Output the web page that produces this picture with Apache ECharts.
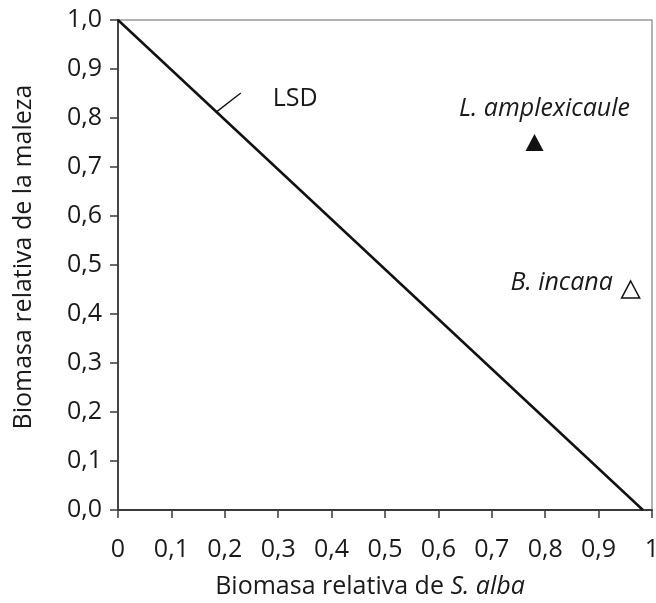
<!DOCTYPE html>
<html>
<head>
<meta charset="utf-8">
<script src="https://cdn.jsdelivr.net/npm/echarts@6/dist/echarts.min.js"></script>
<style>
  html, body { margin: 0; padding: 0; background: #fff; }
  #chart { width: 656px; height: 603px; }
</style>
</head>
<body>
<div id="chart"></div>
<script>
// Tick labels (decimal comma)
const xTickLabels = ['0', '0,1', '0,2', '0,3', '0,4', '0,5', '0,6', '0,7', '0,8', '0,9', '1'];
const yTickLabels = ['0,0', '0,1', '0,2', '0,3', '0,4', '0,5', '0,6', '0,7', '0,8', '0,9', '1,0'];

// Replacement diagonal (relative biomass of S. alba vs. weed)
const diagonalX = [0, 0.983];
const diagonalY = [1.0, 0];

// LSD marker segment
const lsdX = [0.185, 0.23];
const lsdY = [0.813, 0.851];

// Weed species points
const speciesNames = ['L. amplexicaule', 'B. incana'];
const speciesX = [0.78, 0.96];
const speciesY = [0.75, 0.45];

const FONT = 'Open Sans';
const TXT = '#1a1a1a';
const FS = 25;

const chart = echarts.init(document.getElementById('chart'), null, { renderer: 'canvas' });

const pair = (xs, ys) => xs.map((x, i) => [x, ys[i]]);

chart.setOption({
  animation: false,
  backgroundColor: '#fff',
  textStyle: { fontFamily: FONT, color: TXT },
  grid: {
    left: 118, right: 4, top: 20, bottom: 93,
    outerBoundsMode: 'none',
    containLabel: false,
    show: true, borderColor: '#999', borderWidth: 1.5, backgroundColor: 'transparent'
  },
  xAxis: {
    type: 'value', min: 0, max: 1, interval: 0.1,
    axisLine: { show: true, onZero: false, lineStyle: { color: '#3a3a3a', width: 1.8 } },
    axisTick: { show: true, inside: false, length: 8, lineStyle: { color: '#3a3a3a', width: 1.5 } },
    splitLine: { show: false },
    axisLabel: {
      margin: 27, fontSize: FS, color: TXT, fontFamily: FONT,
      formatter: (v) => xTickLabels[Math.round(v * 10)]
    },
    name: '{n|Biomasa relativa de }{i|S. alba}',
    nameLocation: 'middle',
    nameGap: 64,
    nameTextStyle: {
      padding: [0, 30, 0, 0],
      rich: {
        n: { fontSize: FS, fontFamily: FONT, color: TXT },
        i: { fontSize: FS, fontFamily: FONT, color: TXT, fontStyle: 'italic' }
      }
    }
  },
  yAxis: {
    type: 'value', min: 0, max: 1, interval: 0.1,
    axisLine: { show: true, onZero: false, lineStyle: { color: '#3a3a3a', width: 1.8 } },
    axisTick: { show: true, inside: false, length: 8, lineStyle: { color: '#3a3a3a', width: 1.5 } },
    splitLine: { show: false },
    axisLabel: {
      margin: 16, fontSize: FS, color: TXT, fontFamily: FONT,
      formatter: (v) => yTickLabels[Math.round(v * 10)]
    },
    name: 'Biomasa relativa de la maleza',
    nameLocation: 'middle',
    nameGap: 82,
    nameTextStyle: { fontSize: FS, fontFamily: FONT, color: TXT, padding: [0, 0, 0, 16] }
  },
  series: [
    {
      type: 'line',
      data: pair(diagonalX, diagonalY),
      symbol: 'none',
      lineStyle: { color: '#111', width: 2.5 },
      silent: true
    },
    {
      type: 'line',
      data: pair(lsdX, lsdY),
      symbol: 'none',
      lineStyle: { color: '#111', width: 1.3 },
      endLabel: {
        show: true,
        formatter: 'LSD',
        fontSize: FS, fontFamily: FONT, color: TXT,
        offset: [24, 6]
      },
      silent: true
    },
    {
      type: 'scatter',
      symbol: 'triangle',
      symbolSize: [18, 17],
      data: [{
        value: [speciesX[0], speciesY[0]],
        itemStyle: { color: '#111', opacity: 1 },
        label: {
          show: true, position: 'top', distance: 13, offset: [10, 0],
          formatter: speciesNames[0], fontStyle: 'italic',
          fontSize: FS, fontFamily: FONT, color: TXT
        }
      }, {
        value: [speciesX[1], speciesY[1]],
        itemStyle: { color: '#fff', borderColor: '#111', borderWidth: 1.5, opacity: 1 },
        label: {
          show: true, position: 'left', distance: 8, offset: [0, -7],
          formatter: speciesNames[1], fontStyle: 'italic',
          fontSize: FS, fontFamily: FONT, color: TXT
        }
      }]
    }
  ]
});
</script>
</body>
</html>
